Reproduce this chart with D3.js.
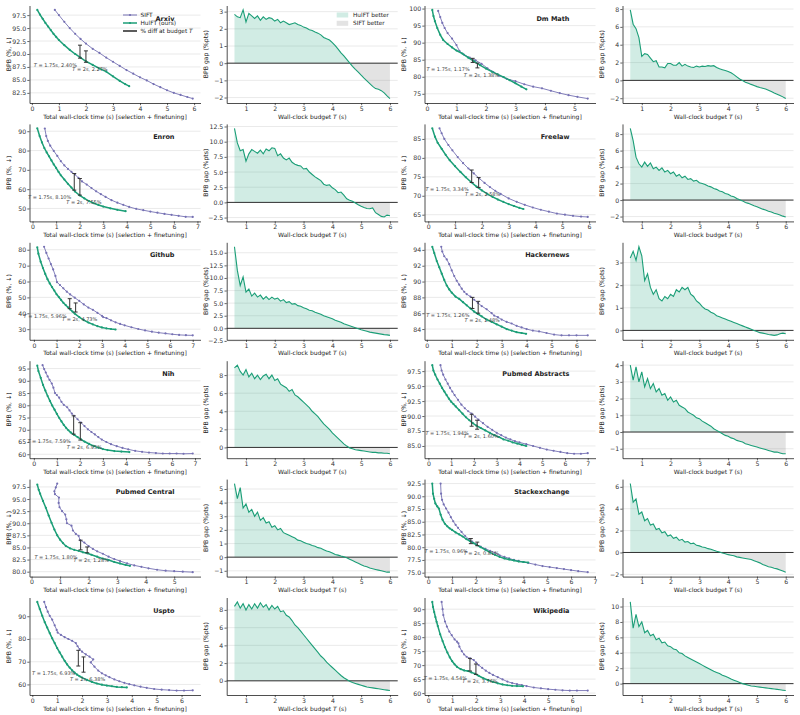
<!DOCTYPE html>
<html>
<head>
<meta charset="utf-8">
<script src="https://cdn.jsdelivr.net/npm/d3@7"></script>
<style>
  body { margin: 0; background: #fff; }
  svg { font-family: "DejaVu Sans", sans-serif; }
</style>
</head>
<body>
<svg id="chart" width="800" height="715"></svg>
<script>
// ---- data: [time (s), BPB] for each curve ----
const siftArxiv = [[0.85,98.5],[1.0,97.5],[1.2,96.2],[1.4,95.0],[1.6,93.9],[1.8,92.9],[2.0,92.0],[2.25,91.0],[2.5,90.2],[2.75,89.3],[3.0,88.5],[3.25,87.7],[3.5,86.9],[3.75,86.2],[4.0,85.5],[4.25,84.9],[4.5,84.2],[4.75,83.6],[5.0,83.0],[5.25,82.5],[5.5,82.1],[5.75,81.7],[5.95,81.4]];
const hulftArxiv = [[0.2,98.5],[0.3,97.6],[0.4,96.8],[0.5,96.0],[0.6,95.3],[0.7,94.6],[0.8,93.9],[0.9,93.3],[1.0,92.7],[1.2,91.7],[1.4,90.8],[1.6,90.0],[1.8,89.3],[2.0,88.6],[2.25,87.9],[2.5,87.2],[2.75,86.6],[3.0,85.7],[3.25,84.8],[3.45,84.2],[3.6,83.8]];

const siftDmMath = [[0.38,99.3],[0.45,97.5],[0.52,95.8],[0.6,94.3],[0.7,92.8],[0.85,91.2],[1.0,89.3],[1.1,87.6],[1.25,86.5],[1.45,85.6],[1.65,84.8],[1.85,83.8],[2.05,82.5],[2.25,81.4],[2.45,80.3],[2.7,79.4],[3.0,78.7],[3.3,77.8],[3.6,77.1],[3.9,76.6],[4.2,75.9],[4.5,75.2],[4.8,74.6],[5.1,74.1],[5.45,73.6]];
const hulftDmMath = [[0.18,99.6],[0.22,97.8],[0.27,96.3],[0.35,94.3],[0.45,92.3],[0.55,90.8],[0.7,89.6],[0.85,88.6],[1.0,87.7],[1.2,86.8],[1.4,85.6],[1.6,84.5],[1.8,83.4],[2.0,82.4],[2.2,81.5],[2.4,80.7],[2.6,79.9],[2.8,79.0],[3.0,78.1],[3.2,77.1],[3.37,76.3]];

const siftEnron = [[0.52,91.4],[0.58,87.5],[0.65,85.0],[0.75,82.5],[0.9,79.8],[1.05,77.2],[1.2,74.5],[1.35,72.3],[1.5,70.5],[1.65,69.0],[1.8,67.6],[1.95,65.8],[2.1,64.0],[2.3,62.4],[2.5,60.6],[2.7,58.9],[2.9,57.4],[3.1,56.0],[3.35,54.3],[3.6,53.0],[3.85,51.9],[4.1,50.8],[4.4,49.8],[4.7,49.1],[5.0,48.4],[5.3,47.8],[5.6,47.2],[5.9,46.7],[6.2,46.2],[6.5,45.7],[6.8,45.6]];
const hulftEnron = [[0.2,91.5],[0.3,87.5],[0.4,84.2],[0.5,81.3],[0.6,79.0],[0.7,77.0],[0.8,74.9],[0.9,72.8],[1.0,71.0],[1.1,69.0],[1.2,67.2],[1.35,65.0],[1.5,62.8],[1.65,60.8],[1.8,58.8],[2.0,56.8],[2.2,55.2],[2.4,53.8],[2.6,52.7],[2.8,51.8],[3.0,51.0],[3.3,50.1],[3.6,49.3],[3.95,48.6]];

const siftFreelaw = [[0.42,87.8],[0.5,86.5],[0.6,85.0],[0.75,83.4],[0.9,82.0],[1.1,80.2],[1.3,78.6],[1.5,77.2],[1.7,75.9],[1.9,74.6],[2.1,73.4],[2.3,72.3],[2.5,71.3],[2.7,70.5],[3.0,69.3],[3.3,68.4],[3.6,67.6],[3.9,66.9],[4.2,66.3],[4.5,65.8],[4.8,65.3],[5.1,65.0],[5.4,64.7],[5.7,64.5],[5.95,64.4]];
const hulftFreelaw = [[0.15,87.8],[0.25,85.6],[0.35,84.0],[0.5,82.4],[0.65,80.8],[0.8,79.4],[1.0,77.8],[1.2,76.3],[1.4,74.9],[1.6,73.6],[1.8,72.4],[2.0,71.4],[2.2,70.5],[2.4,69.7],[2.6,69.0],[2.8,68.4],[3.0,67.8],[3.2,67.3],[3.4,66.8],[3.55,66.5]];

const siftGithub = [[0.45,81.9],[0.55,78.0],[0.65,74.5],[0.75,71.0],[0.85,67.6],[0.95,63.5],[1.02,59.6],[1.15,57.8],[1.3,55.7],[1.45,53.6],[1.6,51.9],[1.8,49.8],[2.0,47.8],[2.2,45.6],[2.4,43.6],[2.6,42.2],[2.8,40.3],[3.0,38.4],[3.05,37.6],[3.2,37.0],[3.4,35.6],[3.6,34.3],[3.8,33.3],[4.0,32.4],[4.3,31.2],[4.6,30.1],[4.9,29.2],[5.2,28.4],[5.5,27.8],[5.8,27.3],[6.1,26.8],[6.4,26.4],[6.7,26.2],[7.0,26.1]];
const hulftGithub = [[0.15,81.5],[0.2,77.5],[0.3,72.5],[0.4,68.5],[0.5,64.8],[0.6,61.5],[0.7,58.8],[0.8,56.5],[0.9,54.3],[1.0,52.0],[1.1,50.2],[1.2,48.4],[1.3,46.6],[1.4,45.2],[1.5,43.8],[1.6,42.4],[1.7,41.1],[1.8,39.8],[2.0,37.6],[2.2,35.7],[2.4,34.2],[2.6,33.0],[2.8,31.9],[3.0,31.1],[3.2,30.5],[3.4,30.1],[3.6,29.8]];

const siftHackernews = [[0.58,94.4],[0.62,93.8],[0.7,93.2],[0.8,92.8],[0.9,92.2],[1.0,91.4],[1.1,90.7],[1.2,90.1],[1.3,89.6],[1.4,89.1],[1.5,88.7],[1.6,88.4],[1.75,88.1],[1.9,87.7],[2.05,87.3],[2.2,86.9],[2.4,86.5],[2.6,86.0],[2.7,85.7],[2.85,85.5],[3.0,85.2],[3.2,84.9],[3.4,84.7],[3.6,84.4],[3.8,84.2],[4.0,84.0],[4.25,83.8],[4.5,83.7],[4.8,83.5],[5.1,83.3],[5.4,83.2],[5.7,83.2],[6.0,83.2],[6.45,83.2]];
const hulftHackernews = [[0.22,94.4],[0.3,93.6],[0.4,92.6],[0.5,91.8],[0.6,91.0],[0.7,90.2],[0.8,89.5],[0.9,89.0],[1.0,88.6],[1.15,88.1],[1.3,87.8],[1.45,87.4],[1.6,87.0],[1.75,86.6],[1.9,86.2],[2.05,85.9],[2.2,85.6],[2.4,85.2],[2.6,84.9],[2.8,84.6],[3.0,84.3],[3.2,84.0],[3.4,83.8],[3.6,83.6],[3.8,83.5],[3.98,83.4]];

const siftNih = [[0.38,96.4],[0.45,94.8],[0.52,93.4],[0.6,91.8],[0.68,90.4],[0.78,88.9],[0.85,87.2],[0.92,85.0],[1.0,84.2],[1.1,83.1],[1.2,81.4],[1.3,80.2],[1.45,79.2],[1.55,77.9],[1.65,76.6],[1.75,75.7],[1.9,74.3],[2.05,72.9],[2.2,71.5],[2.35,70.2],[2.5,69.1],[2.65,68.1],[2.8,67.0],[2.95,66.0],[3.15,65.0],[3.35,64.1],[3.6,63.3],[3.85,62.6],[4.1,62.0],[4.4,61.4],[4.7,61.0],[5.0,60.7],[5.3,60.5],[5.6,60.3],[5.9,60.3],[6.2,60.3],[6.5,60.2],[6.9,60.3]];
const hulftNih = [[0.15,96.2],[0.2,94.0],[0.3,91.2],[0.4,88.3],[0.5,86.0],[0.6,83.8],[0.7,81.8],[0.8,79.9],[0.9,78.2],[1.0,76.5],[1.1,74.9],[1.2,73.4],[1.3,72.0],[1.4,70.8],[1.5,69.8],[1.6,68.9],[1.75,67.9],[1.9,67.0],[2.05,66.1],[2.2,65.2],[2.4,64.2],[2.6,63.4],[2.8,62.7],[3.0,62.1],[3.2,61.7],[3.5,61.3],[3.8,61.1],[4.15,60.9]];

const siftPubmedAbs = [[0.53,98.5],[0.58,97.6],[0.65,96.9],[0.75,96.1],[0.85,95.4],[0.95,94.7],[1.05,94.1],[1.15,93.5],[1.3,92.7],[1.45,91.9],[1.6,91.3],[1.75,90.8],[1.9,90.4],[2.05,89.9],[2.2,89.4],[2.4,88.8],[2.6,88.2],[2.8,87.7],[3.0,87.2],[3.2,86.8],[3.4,86.4],[3.6,86.1],[3.8,85.8],[4.0,85.6],[4.3,85.3],[4.6,85.0],[4.9,84.7],[5.2,84.4],[5.5,84.2],[5.8,84.0],[6.1,83.8],[6.4,83.7],[6.7,83.7],[7.0,83.8]];
const hulftPubmedAbs = [[0.17,98.5],[0.22,97.6],[0.3,96.9],[0.4,96.1],[0.5,95.4],[0.6,94.7],[0.7,94.1],[0.8,93.5],[0.9,92.9],[1.0,92.4],[1.1,92.0],[1.2,91.6],[1.35,91.0],[1.5,90.4],[1.65,89.8],[1.8,89.3],[1.95,88.8],[2.1,88.4],[2.3,88.0],[2.5,87.6],[2.7,87.2],[2.9,86.8],[3.1,86.5],[3.3,86.1],[3.5,85.9],[3.7,85.6],[3.9,85.4],[4.1,85.2],[4.3,85.0]];

const siftPubmedCen = [[0.9,98.2],[0.85,97.4],[0.8,96.6],[0.82,96.0],[0.96,95.3],[0.95,94.2],[0.98,93.3],[1.07,92.5],[1.18,91.8],[1.22,90.8],[1.24,90.0],[1.4,89.5],[1.45,88.5],[1.55,87.8],[1.65,87.4],[1.7,86.5],[1.85,86.0],[2.0,85.3],[2.15,84.7],[2.3,84.2],[2.5,83.7],[2.7,83.1],[2.9,82.6],[3.1,82.2],[3.35,81.7],[3.6,81.3],[3.85,81.0],[4.1,80.7],[4.4,80.4],[4.7,80.2],[5.0,80.1],[5.3,80.0],[5.65,79.9]];
const hulftPubmedCen = [[0.2,98.0],[0.25,96.9],[0.3,96.1],[0.4,94.6],[0.5,93.2],[0.6,91.6],[0.7,90.1],[0.8,88.7],[0.9,87.5],[1.0,86.6],[1.1,85.9],[1.2,85.3],[1.35,84.8],[1.5,84.5],[1.65,84.3],[1.8,84.0],[1.95,83.8],[2.1,83.5],[2.3,83.1],[2.5,82.7],[2.7,82.4],[2.9,82.0],[3.1,81.7],[3.3,81.4],[3.45,81.2]];

const siftStack = [[0.52,92.5],[0.54,90.5],[0.58,89.3],[0.65,88.4],[0.75,87.6],[0.85,86.8],[0.95,85.9],[1.05,85.1],[1.15,84.4],[1.25,83.8],[1.4,83.0],[1.55,82.2],[1.7,81.6],[1.85,81.1],[2.0,80.6],[2.2,80.1],[2.4,79.7],[2.6,79.3],[2.8,78.9],[3.0,78.4],[3.2,78.1],[3.4,77.8],[3.6,77.5],[3.8,77.3],[4.0,77.1],[4.2,76.9],[4.5,76.6],[4.8,76.3],[5.1,76.1],[5.4,75.9],[5.7,75.7],[6.0,75.5],[6.3,75.3],[6.7,75.1]];
const hulftStack = [[0.17,92.5],[0.2,90.5],[0.25,89.5],[0.3,88.6],[0.38,88.0],[0.45,87.6],[0.52,86.4],[0.6,85.4],[0.7,84.6],[0.8,84.1],[0.9,83.7],[1.0,83.4],[1.15,82.9],[1.3,82.5],[1.45,82.1],[1.6,81.6],[1.75,81.2],[1.9,80.8],[2.05,80.4],[2.2,80.0],[2.4,79.5],[2.6,79.0],[2.8,78.5],[3.0,78.1],[3.2,77.8],[3.4,77.6],[3.6,77.4],[3.8,77.2],[4.0,77.1],[4.2,77.0]];

const siftUspto = [[0.48,96.3],[0.55,94.0],[0.62,92.0],[0.7,90.2],[0.8,88.5],[0.9,86.0],[0.98,84.0],[1.02,82.8],[1.15,81.8],[1.3,80.8],[1.45,80.0],[1.6,79.2],[1.75,78.2],[1.82,76.8],[1.9,75.6],[2.0,74.4],[2.15,73.2],[2.3,72.2],[2.45,71.0],[2.35,69.7],[2.5,67.8],[2.65,66.1],[2.8,64.9],[2.95,64.0],[3.1,63.2],[3.3,62.2],[3.5,61.4],[3.7,60.7],[3.9,60.1],[4.1,59.6],[4.35,59.0],[4.6,58.5],[4.9,58.0],[5.2,57.7],[5.5,57.5],[5.8,57.3],[6.1,57.3],[6.45,57.4]];
const hulftUspto = [[0.2,96.3],[0.3,93.2],[0.4,90.2],[0.5,87.4],[0.6,85.0],[0.7,82.6],[0.8,80.3],[0.9,78.2],[1.0,76.0],[1.1,74.1],[1.2,72.2],[1.3,70.4],[1.4,68.8],[1.5,67.4],[1.6,66.2],[1.7,65.2],[1.8,64.3],[1.9,63.6],[2.0,63.0],[2.2,62.0],[2.4,61.1],[2.6,60.4],[2.8,59.9],[3.0,59.5],[3.2,59.2],[3.4,58.9],[3.6,58.8],[3.8,58.7]];

const siftWiki = [[0.56,92.6],[0.6,90.0],[0.63,87.9],[0.7,85.6],[0.78,83.8],[0.88,82.0],[0.98,80.7],[1.1,79.2],[1.2,78.4],[1.26,77.8],[1.3,76.6],[1.4,75.0],[1.5,73.8],[1.6,73.0],[1.75,72.4],[1.9,71.8],[2.0,70.9],[2.1,70.0],[2.25,69.0],[2.4,68.0],[2.55,67.2],[2.7,66.5],[2.9,65.7],[3.1,64.9],[3.3,64.1],[3.5,63.6],[3.7,63.2],[3.9,62.9],[4.1,62.5],[4.4,62.0],[4.7,61.7],[5.0,61.4],[5.3,61.2],[5.6,61.0],[5.9,60.9],[6.2,60.9],[6.65,60.9]];
const hulftWiki = [[0.17,92.6],[0.2,90.8],[0.25,89.0],[0.3,87.2],[0.35,85.5],[0.4,84.0],[0.5,81.0],[0.6,78.6],[0.7,76.4],[0.8,74.5],[0.9,72.8],[1.0,71.4],[1.1,70.3],[1.2,69.4],[1.35,68.6],[1.5,68.1],[1.65,67.9],[1.8,67.4],[1.95,66.9],[2.1,66.2],[2.3,65.3],[2.5,64.6],[2.7,64.0],[2.9,63.5],[3.1,63.1],[3.3,62.8],[3.5,62.6],[3.7,62.5],[3.95,62.4]];

// ---- % diff markers: [x position, low BPB, high BPB, budget label, diff label] ----
const barsArxiv = [[1.78,89.2,91.7,'1.75s','2.40%'],[2.0,88.4,90.6,'2s','2.27%']];
const barsDmMath = [[1.55,84.2,85.4,'1.75s','1.17%'],[1.71,82.6,84.0,'2s','1.38%']];
const barsEnron = [[1.77,59.5,68.1,'1.75s','8.10%'],[2.01,56.9,65.5,'2s','7.55%']];
const barsFreelaw = [[1.62,73.5,76.8,'1.75s','3.34%'],[1.88,72.2,74.8,'2s','2.58%']];
const barsGithub = [[1.58,42.9,49.2,'1.75s','5.96%'],[1.84,40.8,46.5,'2s','4.73%']];
const barsHackernews = [[1.83,86.6,88.0,'1.75s','1.26%'],[2.06,86.0,87.5,'2s','1.48%']];
const barsNih = [[1.73,68.2,75.7,'1.75s','7.59%'],[2.02,65.8,72.9,'2s','6.95%']];
const barsPubmedAbs = [[1.9,88.3,90.3,'1.75s','1.94%'],[2.14,87.8,89.3,'2s','1.60%']];
const barsPubmedCen = [[1.72,84.5,86.5,'1.75s','1.80%'],[1.95,83.9,85.1,'2s','1.28%']];
const barsStack = [[1.79,80.7,81.7,'1.75s','0.96%'],[2.06,80.3,81.0,'2s','0.81%']];
const barsUspto = [[1.85,68.1,75.0,'1.75s','6.93%'],[2.06,65.4,72.1,'2s','6.38%']];
const barsWiki = [[1.74,67.9,72.4,'1.75s','4.54%'],[1.99,66.7,70.4,'2s','3.76%']];

// ---- BPB gap (SIFT - HulFT, %pts) at each wall-clock budget ----
const budgets = [0.6,0.7,0.8,0.9,1.0,1.1,1.2,1.3,1.4,1.5,
  1.6,1.7,1.8,1.9,2.0,2.1,2.2,2.3,2.4,2.5,
  2.6,2.7,2.8,2.9,3.0,3.1,3.2,3.3,3.4,3.5,
  3.6,3.7,3.8,3.9,4.0,4.1,4.2,4.3,4.4,4.5,
  4.6,4.7,4.8,4.9,5.0,5.1,5.2,5.3,5.4,5.5,
  5.6,5.7,5.8,5.9,6.0];

const gapArxiv = [2.84,2.7,2.65,3.1,2.4,2.9,2.75,2.6,2.75,2.5,
  2.7,2.55,2.65,2.6,2.45,2.55,2.35,2.45,2.35,2.25,
  2.3,2.35,2.25,2.2,2.1,2.05,1.95,1.9,1.82,1.75,
  1.65,1.5,1.42,1.35,1.2,1.02,0.82,0.6,0.42,0.22,
  0.02,-0.18,-0.36,-0.52,-0.7,-0.87,-1.03,-1.19,-1.35,-1.48,
  -1.52,-1.6,-1.73,-1.9,-2.06];
const gapDmMath = [7.9,6.3,5.8,4.8,2.7,3.0,2.9,2.5,2.1,2.2,
  1.5,1.5,1.4,1.9,1.9,1.7,1.7,2.0,1.6,1.8,
  1.6,1.5,1.45,1.6,1.5,1.6,1.55,1.65,1.6,1.65,
  1.45,1.3,1.2,1.1,1.0,0.85,0.65,0.4,0.15,-0.02,
  -0.2,-0.32,-0.45,-0.57,-0.7,-0.8,-0.88,-0.97,-1.1,-1.25,
  -1.42,-1.55,-1.7,-1.85,-2.04];
const gapEnron = [12.2,9.8,8.5,8.7,6.8,8.0,8.7,8.4,8.1,8.6,
  8.0,8.8,8.5,9.0,8.9,7.7,8.0,7.3,7.0,7.3,
  6.6,6.3,6.1,6.0,5.5,5.6,5.0,4.6,4.2,3.9,
  3.6,3.0,2.8,2.9,2.4,2.1,1.6,1.7,1.2,0.6,
  0.35,0.2,-0.1,-0.4,-0.65,-0.85,-1.0,-1.05,-0.9,-1.7,
  -2.0,-2.3,-2.4,-2.1,-2.2];
const gapFreelaw = [8.7,7.2,5.2,4.4,4.0,4.6,4.1,4.5,3.8,4.0,
  3.6,3.9,3.4,3.6,3.2,3.4,2.9,3.1,2.7,2.9,
  2.5,2.6,2.3,2.4,2.1,2.0,1.9,1.7,1.6,1.4,
  1.3,1.1,1.0,0.8,0.7,0.5,0.4,0.2,0.05,-0.1,
  -0.3,-0.4,-0.55,-0.7,-0.8,-0.95,-1.1,-1.2,-1.35,-1.45,
  -1.6,-1.7,-1.8,-1.95,-2.05];
const gapGithub = [16.2,11.5,8.5,10.2,7.2,7.8,6.4,7.0,6.2,6.6,
  5.8,6.3,5.7,6.2,5.8,6.0,5.4,5.7,5.1,5.3,
  4.8,4.9,4.5,4.4,4.1,3.9,3.6,3.5,3.2,3.0,
  2.8,2.5,2.3,2.1,1.9,1.6,1.4,1.2,0.9,0.7,
  0.5,0.3,0.1,-0.1,-0.3,-0.45,-0.6,-0.75,-0.85,-0.95,
  -1.05,-1.15,-1.25,-1.3,-1.4];
const gapHackernews = [3.2,3.5,3.1,3.7,3.3,2.2,2.5,1.9,1.6,1.8,
  1.4,1.3,1.5,1.4,1.6,1.5,1.8,1.7,1.9,1.8,
  1.9,1.6,1.5,1.3,1.2,1.05,0.95,0.9,0.8,0.75,
  0.65,0.6,0.55,0.5,0.45,0.4,0.35,0.3,0.25,0.2,
  0.15,0.1,0.05,0.0,-0.05,-0.1,-0.12,-0.15,-0.18,-0.2,
  -0.22,-0.2,-0.15,-0.12,-0.15];
const gapNih = [8.8,9.1,8.4,8.0,8.6,7.8,8.2,7.6,8.0,7.5,
  7.9,8.1,7.6,8.0,7.4,7.6,7.0,6.8,6.6,6.2,
  6.4,5.8,5.6,5.3,5.0,4.7,4.4,4.0,3.7,3.4,
  3.0,2.6,2.3,2.0,1.6,1.3,1.0,0.7,0.4,0.15,
  -0.05,-0.15,-0.25,-0.3,-0.35,-0.4,-0.45,-0.5,-0.55,-0.55,
  -0.6,-0.6,-0.65,-0.65,-0.7];
const gapPubmedAbs = [4.0,3.1,3.9,3.0,3.6,2.7,3.2,2.6,2.9,2.4,
  2.6,2.2,2.3,1.9,2.1,1.8,1.9,1.6,1.5,1.4,
  1.2,1.1,1.0,0.85,0.8,0.65,0.55,0.45,0.35,0.2,
  0.1,0.0,-0.1,-0.2,-0.25,-0.35,-0.4,-0.5,-0.55,-0.6,
  -0.7,-0.75,-0.8,-0.85,-0.9,-0.95,-1.0,-1.05,-1.1,-1.15,
  -1.2,-1.2,-1.25,-1.3,-1.3];
const gapPubmedCen = [5.4,4.3,5.1,3.6,3.9,3.3,3.5,3.0,3.3,2.7,
  2.9,2.5,2.6,2.2,2.3,2.0,2.1,1.8,1.7,1.6,
  1.5,1.4,1.25,1.2,1.1,1.0,0.95,0.85,0.8,0.7,
  0.65,0.55,0.45,0.4,0.3,0.2,0.15,0.08,0.02,-0.05,
  -0.15,-0.25,-0.35,-0.45,-0.55,-0.65,-0.7,-0.8,-0.85,-0.9,
  -0.95,-1.0,-1.05,-1.1,-1.1];
const gapStack = [6.3,4.6,4.9,3.5,3.7,2.9,3.1,2.5,2.6,2.1,
  2.2,1.8,1.9,1.5,1.6,1.3,1.4,1.1,1.2,0.95,
  1.0,0.8,0.85,0.65,0.6,0.5,0.45,0.35,0.3,0.2,
  0.12,0.05,-0.05,-0.12,-0.2,-0.25,-0.3,-0.4,-0.45,-0.5,
  -0.55,-0.6,-0.65,-0.75,-0.85,-0.95,-1.1,-1.2,-1.3,-1.35,
  -1.45,-1.5,-1.6,-1.7,-1.8];
const gapUspto = [8.4,8.9,8.2,8.7,8.0,8.6,8.1,8.7,8.2,8.8,
  8.3,8.6,8.0,8.5,8.1,8.4,7.8,7.9,7.4,7.2,
  6.8,6.3,6.0,5.6,5.2,4.8,4.4,4.0,3.6,3.2,
  2.8,2.5,2.1,1.8,1.5,1.2,0.9,0.6,0.35,0.15,
  -0.05,-0.2,-0.3,-0.4,-0.5,-0.6,-0.7,-0.75,-0.8,-0.85,
  -0.9,-0.95,-1.0,-1.05,-1.1];
const gapWiki = [10.6,7.2,9.0,7.4,8.0,6.6,6.9,6.2,6.4,5.7,
  5.9,5.3,5.4,4.9,4.8,4.5,4.4,4.0,3.9,3.6,
  3.4,3.2,3.0,2.8,2.6,2.4,2.2,2.0,1.8,1.6,
  1.45,1.3,1.1,0.95,0.8,0.6,0.45,0.3,0.15,0.0,
  -0.1,-0.2,-0.3,-0.35,-0.4,-0.45,-0.5,-0.55,-0.6,-0.65,
  -0.7,-0.75,-0.8,-0.85,-0.9];

// ---- tick labels ----
const yTicksArxiv = [82.5,85,87.5,90,92.5,95,97.5];
const yTicksDmMath = [75,80,85,90,95,100];
const yTicksEnron = [50,60,70,80,90];
const yTicksFreelaw = [65,70,75,80,85];
const yTicksGithub = [30,40,50,60,70,80];
const yTicksHackernews = [84,86,88,90,92,94];
const yTicksNih = [60,65,70,75,80,85,90,95];
const yTicksPubmedAbs = [85,87.5,90,92.5,95,97.5];
const yTicksPubmedCen = [80,82.5,85,87.5,90,92.5,95,97.5];
const yTicksStack = [75,77.5,80,82.5,85,87.5,90,92.5];
const yTicksUspto = [60,70,80,90];
const yTicksWiki = [60,65,70,75,80,85,90];

const gapTicksArxiv = [-2,-1,0,1,2,3];
const gapTicksDmMath = [-2,0,2,4,6,8];
const gapTicksEnron = [-2.5,0,2.5,5,7.5,10,12.5];
const gapTicksFreelaw = [-2,0,2,4,6,8];
const gapTicksGithub = [-2.5,0,2.5,5,7.5,10,12.5,15];
const gapTicksHackernews = [0,1,2,3];
const gapTicksNih = [0,2,4,6,8];
const gapTicksPubmedAbs = [-1,0,1,2,3,4];
const gapTicksPubmedCen = [-1,0,1,2,3,4,5];
const gapTicksStack = [-2,0,2,4,6];
const gapTicksUspto = [0,2,4,6,8];
const gapTicksWiki = [0,2,4,6,8,10];

const panels = [
  {name: 'Arxiv', sift: siftArxiv, hulft: hulftArxiv, bars: barsArxiv, gap: gapArxiv, yTicks: yTicksArxiv, gapTicks: gapTicksArxiv},
  {name: 'Dm Math', sift: siftDmMath, hulft: hulftDmMath, bars: barsDmMath, gap: gapDmMath, yTicks: yTicksDmMath, gapTicks: gapTicksDmMath},
  {name: 'Enron', sift: siftEnron, hulft: hulftEnron, bars: barsEnron, gap: gapEnron, yTicks: yTicksEnron, gapTicks: gapTicksEnron},
  {name: 'Freelaw', sift: siftFreelaw, hulft: hulftFreelaw, bars: barsFreelaw, gap: gapFreelaw, yTicks: yTicksFreelaw, gapTicks: gapTicksFreelaw},
  {name: 'Github', sift: siftGithub, hulft: hulftGithub, bars: barsGithub, gap: gapGithub, yTicks: yTicksGithub, gapTicks: gapTicksGithub},
  {name: 'Hackernews', sift: siftHackernews, hulft: hulftHackernews, bars: barsHackernews, gap: gapHackernews, yTicks: yTicksHackernews, gapTicks: gapTicksHackernews},
  {name: 'Nih', sift: siftNih, hulft: hulftNih, bars: barsNih, gap: gapNih, yTicks: yTicksNih, gapTicks: gapTicksNih},
  {name: 'Pubmed Abstracts', sift: siftPubmedAbs, hulft: hulftPubmedAbs, bars: barsPubmedAbs, gap: gapPubmedAbs, yTicks: yTicksPubmedAbs, gapTicks: gapTicksPubmedAbs},
  {name: 'Pubmed Central', sift: siftPubmedCen, hulft: hulftPubmedCen, bars: barsPubmedCen, gap: gapPubmedCen, yTicks: yTicksPubmedCen, gapTicks: gapTicksPubmedCen},
  {name: 'Stackexchange', sift: siftStack, hulft: hulftStack, bars: barsStack, gap: gapStack, yTicks: yTicksStack, gapTicks: gapTicksStack},
  {name: 'Uspto', sift: siftUspto, hulft: hulftUspto, bars: barsUspto, gap: gapUspto, yTicks: yTicksUspto, gapTicks: gapTicksUspto},
  {name: 'Wikipedia', sift: siftWiki, hulft: hulftWiki, bars: barsWiki, gap: gapWiki, yTicks: yTicksWiki, gapTicks: gapTicksWiki}
];

// ---- layout ----
const svg = d3.select('#chart');
const colLeft = [29.5, 226.7, 424.5, 622.5];
const panelW = 171, panelH = 97.5;
const rowTop = r => 5.5 + r * 118.4;
const SIFT_COLOR = '#7570b3', HULFT_COLOR = '#1b9e77';
const FONT = 'DejaVu Sans';

function pad(ext) {
  const d = (ext[1] - ext[0]) * 0.05;
  return [ext[0] - d, ext[1] + d];
}

function tickFmt(ticks) {
  return ticks.some(t => !Number.isInteger(t)) ? d3.format('.1f') : d3.format('d');
}

function drawAxes(g, x, y, xTicks, yTicks) {
  g.append('g').selectAll('line').data(yTicks).join('line')
    .attr('x1', 0).attr('x2', panelW)
    .attr('y1', d => y(d)).attr('y2', d => y(d))
    .attr('stroke', '#e4e4e4').attr('stroke-width', 0.8);

  const ax = g.append('g').attr('transform', `translate(0,${panelH})`)
    .call(d3.axisBottom(x).tickValues(xTicks).tickSize(2.2).tickSizeOuter(0).tickPadding(1.2).tickFormat(d3.format('d')));
  const ay = g.append('g')
    .call(d3.axisLeft(y).tickValues(yTicks).tickSize(2.2).tickSizeOuter(0).tickPadding(1.2).tickFormat(tickFmt(yTicks)));
  [ax, ay].forEach(a => {
    a.attr('font-size', 6.2).attr('font-family', FONT);
    a.select('.domain').attr('stroke', '#222').attr('stroke-width', 0.8);
    a.selectAll('.tick line').attr('stroke', '#222').attr('stroke-width', 0.7);
    a.selectAll('.tick text').attr('fill', '#333');
  });
}

function yLabel(left, top, txt) {
  svg.append('text')
    .attr('transform', `translate(${left - 19},${top + panelH / 2}) rotate(-90)`)
    .attr('text-anchor', 'middle').attr('font-size', 6.2).attr('fill', '#222')
    .text(txt);
}

function drawCurves(p, left, top, withLegend) {
  const g = svg.append('g').attr('transform', `translate(${left},${top})`);
  const all = p.sift.concat(p.hulft);
  const x = d3.scaleLinear().domain(pad(d3.extent(all, d => d[0]))).range([0, panelW]);
  const yVals = all.map(d => d[1]).concat(p.bars.flatMap(b => [b[1], b[2]]));
  const y = d3.scaleLinear().domain(pad(d3.extent(yVals))).range([panelH, 0]);

  drawAxes(g, x, y, x.ticks(7).filter(Number.isInteger), p.yTicks);

  const line = d3.line().x(d => x(d[0])).y(d => y(d[1]));
  [[p.sift, SIFT_COLOR, 0.9], [p.hulft, HULFT_COLOR, 1.5]].forEach(([data, col, w]) => {
    g.append('path').datum(data).attr('d', line)
      .attr('fill', 'none').attr('stroke', col).attr('stroke-width', w);
    g.append('g').selectAll('circle').data(data).join('circle')
      .attr('cx', d => x(d[0])).attr('cy', d => y(d[1])).attr('r', 1.1).attr('fill', col);
  });

  // % diff bars with caps
  p.bars.forEach((b, k) => {
    const bx = x(b[0]);
    const bg = g.append('g').attr('stroke', '#333').attr('stroke-width', 1);
    bg.append('line').attr('x1', bx).attr('x2', bx).attr('y1', y(b[1])).attr('y2', y(b[2]));
    [b[1], b[2]].forEach(v => bg.append('line')
      .attr('x1', bx - 2).attr('x2', bx + 2).attr('y1', y(v)).attr('y2', y(v)));
    const t = g.append('text').attr('font-size', 5).attr('fill', '#444')
      .attr('x', k === 0 ? bx - 3 : bx + 4).attr('y', y(b[1]) + 9)
      .attr('text-anchor', k === 0 ? 'end' : 'middle');
    t.append('tspan').attr('font-style', 'italic').text('T');
    t.append('tspan').text(` = ${b[3]}, ${b[4]}`);
  });

  g.append('text').attr('x', 145).attr('y', 15).attr('text-anchor', 'end')
    .attr('font-size', 6.5).attr('font-weight', 'bold').attr('fill', '#222').text(p.name);

  if (withLegend) {
    const items = [['SIFT', SIFT_COLOR, 1], ['HulFT (ours)', HULFT_COLOR, 1.5], ['% diff at budget ', '#333', 1.6]];
    items.forEach(([label, col, w], k) => {
      const cy = 9.5 + k * 8;
      g.append('line').attr('x1', 93.5).attr('x2', 107.5).attr('y1', cy).attr('y2', cy)
        .attr('stroke', col).attr('stroke-width', w);
      if (k < 2) g.append('circle').attr('cx', 100.5).attr('cy', cy).attr('r', 1.1).attr('fill', col);
      const t = g.append('text').attr('x', 111).attr('y', cy + 2).attr('font-size', 5.8).attr('fill', '#222').text(label);
      if (k === 2) t.append('tspan').attr('font-style', 'italic').text('T');
    });
  }

  g.append('text').attr('x', panelW / 2).attr('y', panelH + 15.5).attr('text-anchor', 'middle')
    .attr('font-size', 6).attr('fill', '#222')
    .text('Total wall-clock time (s) [selection + finetuning]');
  yLabel(left, top, 'BPB (%, \u2193)');
}

function drawGap(p, left, top, withLegend, idx) {
  const g = svg.append('g').attr('transform', `translate(${left},${top})`);
  const x = d3.scaleLinear().domain(pad(d3.extent(budgets))).range([0, panelW]);
  const y = d3.scaleLinear().domain(pad(d3.extent(p.gap.concat([0])))).range([panelH, 0]);

  drawAxes(g, x, y, x.ticks(6).filter(Number.isInteger), p.gapTicks);

  const y0 = y(0);
  const defs = g.append('defs');
  defs.append('clipPath').attr('id', `pos${idx}`).append('rect')
    .attr('x', 0).attr('y', 0).attr('width', panelW).attr('height', y0);
  defs.append('clipPath').attr('id', `neg${idx}`).append('rect')
    .attr('x', 0).attr('y', y0).attr('width', panelW).attr('height', panelH - y0);

  const area = d3.area().x((d, i) => x(budgets[i])).y0(y0).y1(d => y(d));
  g.append('path').datum(p.gap).attr('d', area).attr('clip-path', `url(#pos${idx})`)
    .attr('fill', HULFT_COLOR).attr('fill-opacity', 0.2);
  g.append('path').datum(p.gap).attr('d', area).attr('clip-path', `url(#neg${idx})`)
    .attr('fill', '#808080').attr('fill-opacity', 0.22);

  g.append('line').attr('x1', 0).attr('x2', panelW).attr('y1', y0).attr('y2', y0)
    .attr('stroke', '#333').attr('stroke-width', 1);

  const line = d3.line().x((d, i) => x(budgets[i])).y(d => y(d));
  g.append('path').datum(p.gap).attr('d', line)
    .attr('fill', 'none').attr('stroke', HULFT_COLOR).attr('stroke-width', 1.1);

  if (withLegend) {
    [['HulFT better', HULFT_COLOR, 0.2], ['SIFT better', '#808080', 0.22]].forEach(([label, col, op], k) => {
      const cy = 9.5 + k * 8.3;
      g.append('rect').attr('x', 110).attr('y', cy - 2.5).attr('width', 11.5).attr('height', 5)
        .attr('fill', col).attr('fill-opacity', op);
      g.append('text').attr('x', 126.3).attr('y', cy + 2).attr('font-size', 5.8).attr('fill', '#222').text(label);
    });
  }

  const xl = g.append('text').attr('x', panelW / 2).attr('y', panelH + 15.5).attr('text-anchor', 'middle')
    .attr('font-size', 6).attr('fill', '#222');
  xl.append('tspan').text('Wall-clock budget ');
  xl.append('tspan').attr('font-style', 'italic').text('T');
  xl.append('tspan').text(' (s)');
  yLabel(left, top, 'BPB gap (%pts)');
}

panels.forEach((p, i) => {
  const r = Math.floor(i / 2), c = (i % 2) * 2;
  drawCurves(p, colLeft[c], rowTop(r), i === 0);
  drawGap(p, colLeft[c + 1], rowTop(r), i === 0, i);
});
</script>
</body>
</html>
